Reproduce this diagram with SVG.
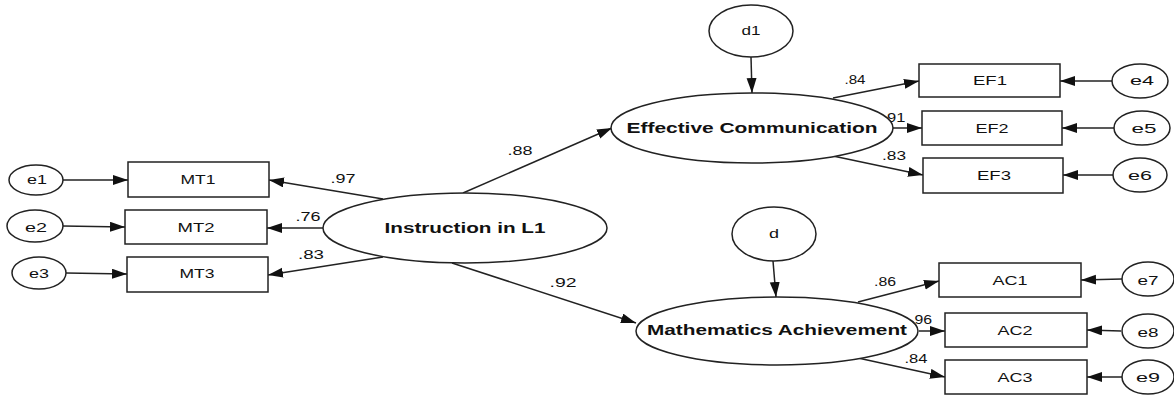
<svg xmlns="http://www.w3.org/2000/svg" width="1174" height="396" viewBox="0 0 1174 396">
<style>
.n{fill:#fff;stroke:#222;stroke-width:1.5}
.t{font-family:"Liberation Sans",Arial,sans-serif;font-size:13px;fill:#111;text-anchor:middle}
.b{font-family:"Liberation Sans",Arial,sans-serif;font-size:14px;font-weight:bold;fill:#111;text-anchor:middle}
.c{stroke:#222;stroke-width:1.5;fill:none;marker-end:url(#ah)}
</style>
<defs>
<marker id="ah" markerUnits="userSpaceOnUse" markerWidth="16" markerHeight="12" refX="15" refY="5" orient="auto">
<path d="M0,0 L15,5 L0,10 z" fill="#111"/>
</marker>
</defs>
<rect width="1174" height="396" fill="#fff"/>
<g id="connectors">
<line class="c" x1="63" y1="180" x2="128" y2="180"/>
<line class="c" x1="63" y1="226" x2="125" y2="227"/>
<line class="c" x1="66" y1="273" x2="127" y2="274"/>
<line class="c" x1="383" y1="199" x2="269" y2="180"/>
<line class="c" x1="323" y1="228" x2="267" y2="228"/>
<line class="c" x1="383" y1="257" x2="268" y2="275"/>
<line class="c" x1="463" y1="193" x2="612" y2="128"/>
<line class="c" x1="452" y1="263" x2="636" y2="323"/>
<line class="c" x1="751" y1="57" x2="752" y2="93"/>
<line class="c" x1="773" y1="261" x2="776" y2="297"/>
<line class="c" x1="833" y1="98" x2="919" y2="81"/>
<line class="c" x1="893" y1="128" x2="922" y2="128"/>
<line class="c" x1="833" y1="156" x2="923" y2="175"/>
<line class="c" x1="1113" y1="81" x2="1060" y2="81"/>
<line class="c" x1="1115" y1="128" x2="1062" y2="128"/>
<line class="c" x1="1113" y1="175" x2="1063" y2="175"/>
<line class="c" x1="858" y1="302" x2="939" y2="281"/>
<line class="c" x1="919" y1="331" x2="945" y2="331"/>
<line class="c" x1="858" y1="358" x2="945" y2="377"/>
<line class="c" x1="1122" y1="279" x2="1081" y2="280"/>
<line class="c" x1="1121" y1="331" x2="1087" y2="330"/>
<line class="c" x1="1122" y1="377" x2="1087" y2="377"/>
</g>
<g id="labels">
<text class="t" x="343" y="183" textLength="25" lengthAdjust="spacingAndGlyphs">.97</text>
<text class="t" x="308" y="221" textLength="25" lengthAdjust="spacingAndGlyphs">.76</text>
<text class="t" x="311" y="259" textLength="26" lengthAdjust="spacingAndGlyphs">.83</text>
<text class="t" x="520" y="155" textLength="25" lengthAdjust="spacingAndGlyphs">.88</text>
<text class="t" x="563" y="287" textLength="27" lengthAdjust="spacingAndGlyphs">.92</text>
<text class="t" x="855" y="84" textLength="21" lengthAdjust="spacingAndGlyphs">.84</text>
<text class="t" x="894" y="122" textLength="23" lengthAdjust="spacingAndGlyphs">.91</text>
<text class="t" x="894" y="160" textLength="24" lengthAdjust="spacingAndGlyphs">.83</text>
<text class="t" x="885" y="286" textLength="22" lengthAdjust="spacingAndGlyphs">.86</text>
<text class="t" x="921" y="324" textLength="22" lengthAdjust="spacingAndGlyphs">.96</text>
<text class="t" x="916" y="363" textLength="23" lengthAdjust="spacingAndGlyphs">.84</text>
</g>
<g id="e1"><ellipse class="n" cx="36" cy="180" rx="27" ry="15"/><text class="t" x="37" y="184" textLength="20" lengthAdjust="spacingAndGlyphs">e1</text></g>
<g id="e2"><ellipse class="n" cx="35" cy="226" rx="28" ry="16"/><text class="t" x="36" y="232" textLength="22" lengthAdjust="spacingAndGlyphs">e2</text></g>
<g id="e3"><ellipse class="n" cx="39" cy="273" rx="27" ry="16"/><text class="t" x="39" y="278" textLength="20" lengthAdjust="spacingAndGlyphs">e3</text></g>
<g id="MT1"><rect class="n" x="128" y="162" width="141" height="35"/><text class="t" x="198" y="184" textLength="35" lengthAdjust="spacingAndGlyphs">MT1</text></g>
<g id="MT2"><rect class="n" x="125" y="210" width="142" height="34"/><text class="t" x="196" y="232" textLength="37" lengthAdjust="spacingAndGlyphs">MT2</text></g>
<g id="MT3"><rect class="n" x="127" y="257" width="141" height="35"/><text class="t" x="197" y="278" textLength="35" lengthAdjust="spacingAndGlyphs">MT3</text></g>
<g id="instruction"><ellipse class="n" cx="465" cy="228" rx="142" ry="35"/><text class="b" x="465" y="233" textLength="161" lengthAdjust="spacingAndGlyphs">Instruction in L1</text></g>
<g id="d1"><ellipse class="n" cx="751" cy="31" rx="42" ry="26"/><text class="t" x="751" y="35" textLength="19" lengthAdjust="spacingAndGlyphs">d1</text></g>
<g id="effective"><ellipse class="n" cx="752" cy="128" rx="141" ry="35"/><text class="b" x="752" y="133" textLength="251" lengthAdjust="spacingAndGlyphs">Effective Communication</text></g>
<g id="EF1"><rect class="n" x="919" y="64" width="141" height="33"/><text class="t" x="990" y="85" textLength="34" lengthAdjust="spacingAndGlyphs">EF1</text></g>
<g id="EF2"><rect class="n" x="922" y="111" width="140" height="34"/><text class="t" x="992" y="133" textLength="33" lengthAdjust="spacingAndGlyphs">EF2</text></g>
<g id="EF3"><rect class="n" x="923" y="158" width="140" height="35"/><text class="t" x="994" y="180" textLength="34" lengthAdjust="spacingAndGlyphs">EF3</text></g>
<g id="e4"><ellipse class="n" cx="1140" cy="81" rx="28" ry="17"/><text class="t" x="1142" y="85" textLength="24" lengthAdjust="spacingAndGlyphs">e4</text></g>
<g id="e5"><ellipse class="n" cx="1142" cy="128" rx="28" ry="17"/><text class="t" x="1144" y="133" textLength="25" lengthAdjust="spacingAndGlyphs">e5</text></g>
<g id="e6"><ellipse class="n" cx="1140" cy="175" rx="27" ry="17"/><text class="t" x="1140" y="180" textLength="24" lengthAdjust="spacingAndGlyphs">e6</text></g>
<g id="d"><ellipse class="n" cx="774" cy="234" rx="42" ry="27"/><text class="t" x="774" y="238" textLength="10" lengthAdjust="spacingAndGlyphs">d</text></g>
<g id="math"><ellipse class="n" cx="777" cy="331" rx="141" ry="34"/><text class="b" x="777" y="335" textLength="260" lengthAdjust="spacingAndGlyphs">Mathematics Achievement</text></g>
<g id="AC1"><rect class="n" x="939" y="263" width="142" height="34"/><text class="t" x="1010" y="285" textLength="35" lengthAdjust="spacingAndGlyphs">AC1</text></g>
<g id="AC2"><rect class="n" x="945" y="313" width="142" height="34"/><text class="t" x="1015" y="335" textLength="35" lengthAdjust="spacingAndGlyphs">AC2</text></g>
<g id="AC3"><rect class="n" x="945" y="360" width="142" height="34"/><text class="t" x="1015" y="382" textLength="35" lengthAdjust="spacingAndGlyphs">AC3</text></g>
<g id="e7"><ellipse class="n" cx="1148" cy="279" rx="26" ry="17"/><text class="t" x="1148" y="285" textLength="21" lengthAdjust="spacingAndGlyphs">e7</text></g>
<g id="e8"><ellipse class="n" cx="1148" cy="331" rx="26" ry="17"/><text class="t" x="1148" y="337" textLength="21" lengthAdjust="spacingAndGlyphs">e8</text></g>
<g id="e9"><ellipse class="n" cx="1148" cy="377" rx="26" ry="17"/><text class="t" x="1148" y="382" textLength="24" lengthAdjust="spacingAndGlyphs">e9</text></g>
</svg>
